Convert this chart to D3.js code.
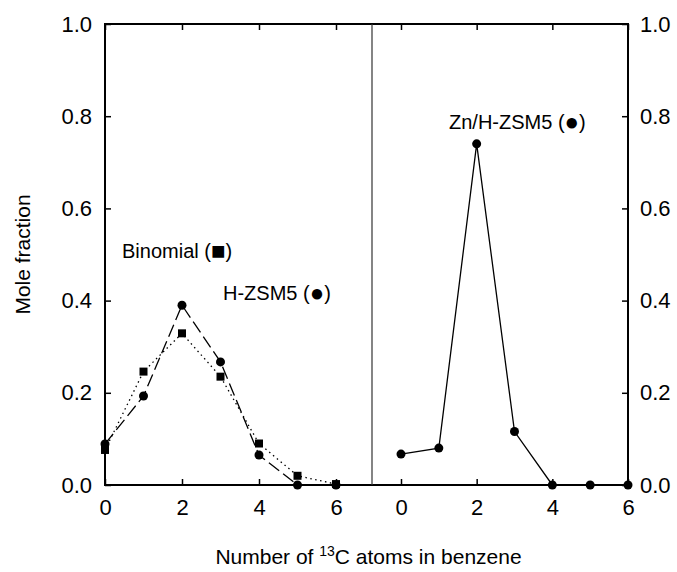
<!DOCTYPE html>
<html>
<head>
<meta charset="utf-8">
<script src="https://cdn.jsdelivr.net/npm/d3@7"></script>
<style>
   body { margin: 0; background: #fff; }
   svg { font-family: "Liberation Sans", Arial, sans-serif; }
   .axis path { display: none; }
   .axis line { stroke: #000; stroke-width: 1.5; }
   .axis text { font-size: 22px; fill: #000; }
</style>
</head>
<body>
<div id="chart"></div>
<script>
// Data
let carbons = [0, 1, 2, 3, 4, 5, 6]
let binomial = [0.076, 0.246, 0.329, 0.235, 0.090, 0.020, 0.002]
let hzsm5 = [0.089, 0.193, 0.390, 0.267, 0.065, 0.0, 0.0]
let znhzsm5 = [0.067, 0.080, 0.740, 0.116, 0.0, 0.0, 0.0]
let xTicks = [0, 2, 4, 6]
let yTicks = [0.0, 0.2, 0.4, 0.6, 0.8, 1.0]

let width = 677, height = 572
let frame = { left: 105, right: 628, top: 24, bottom: 485 }
let divider = 372

let svg = d3.select("#chart").append("svg")
   .attr("width", width)
   .attr("height", height)

let y = d3.scaleLinear().domain([0, 1]).range([frame.bottom, frame.top])
let xL = d3.scaleLinear().domain([0, 6]).range([105, 336])
let xR = d3.scaleLinear().domain([0, 6]).range([401, 628])

// Axes (ticks point inward)
let fmt = d3.format(".1f")
svg.append("g").attr("class", "axis")
   .attr("transform", "translate(" + frame.left + ",0)")
   .call(d3.axisLeft(y).tickValues(yTicks).tickFormat(fmt).tickSize(-6).tickPadding(13))
svg.append("g").attr("class", "axis")
   .attr("transform", "translate(" + frame.right + ",0)")
   .call(d3.axisRight(y).tickValues(yTicks).tickFormat(fmt).tickSize(-6).tickPadding(12))

;[xL, xR].forEach(function(x) {
   svg.append("g").attr("class", "axis")
      .attr("transform", "translate(0," + frame.bottom + ")")
      .call(d3.axisBottom(x).tickValues(xTicks).tickFormat(d3.format("d")).tickSize(-6).tickPadding(14))
   svg.append("g").attr("class", "axis")
      .attr("transform", "translate(0," + frame.top + ")")
      .call(d3.axisTop(x).tickValues(xTicks).tickSize(-6).tickFormat(""))
})

// Frame and divider
svg.append("rect")
   .attr("x", frame.left).attr("y", frame.top)
   .attr("width", frame.right - frame.left).attr("height", frame.bottom - frame.top)
   .attr("fill", "none").attr("stroke", "#000").attr("stroke-width", 2)
svg.append("line")
   .attr("x1", divider).attr("x2", divider)
   .attr("y1", frame.top).attr("y2", frame.bottom)
   .attr("stroke", "#333").attr("stroke-width", 1.2)

// Series
function drawLine(x, values, dash) {
   let line = d3.line()
      .x(function(d, i) { return x(carbons[i]) })
      .y(function(d) { return y(d) })
   svg.append("path")
      .datum(values)
      .attr("d", line)
      .attr("fill", "none")
      .attr("stroke", "#000")
      .attr("stroke-width", 1.3)
      .attr("stroke-dasharray", dash)
}

drawLine(xL, binomial, "1.5,3.5")
drawLine(xL, hzsm5, "13,5")
drawLine(xR, znhzsm5, null)

svg.selectAll("rect.binomial").data(binomial).enter().append("rect")
   .attr("class", "binomial")
   .attr("x", function(d, i) { return xL(carbons[i]) - 4 })
   .attr("y", function(d) { return y(d) - 4 })
   .attr("width", 8).attr("height", 8)
   .attr("fill", "#000")

svg.selectAll("circle.hzsm5").data(hzsm5).enter().append("circle")
   .attr("class", "hzsm5")
   .attr("cx", function(d, i) { return xL(carbons[i]) })
   .attr("cy", function(d) { return y(d) })
   .attr("r", 4.5)
   .attr("fill", "#000")

svg.selectAll("circle.zn").data(znhzsm5).enter().append("circle")
   .attr("class", "zn")
   .attr("cx", function(d, i) { return xR(carbons[i]) })
   .attr("cy", function(d) { return y(d) })
   .attr("r", 4.5)
   .attr("fill", "#000")

// Annotations: label text, then a larger marker glyph in brackets
let notes = [
   { text: "Binomial", mark: "\u25A0", x: 122, y: 258 },
   { text: "H-ZSM5", mark: "\u25CF", x: 223, y: 300 },
   { text: "Zn/H-ZSM5", mark: "\u25CF", x: 449, y: 129 }
]
notes.forEach(function(n) {
   let t = svg.append("text")
      .attr("x", n.x)
      .attr("y", n.y)
      .attr("font-size", 20)
   t.append("tspan").text(n.text + " (")
   t.append("tspan").attr("font-size", 24).attr("dy", 1).text(n.mark)
   t.append("tspan").attr("dy", -1).text(")")
})

// Axis titles
svg.append("text")
   .attr("transform", "translate(30," + ((frame.top + frame.bottom) / 2) + ") rotate(-90)")
   .attr("text-anchor", "middle")
   .attr("font-size", 21)
   .text("Mole fraction")

let xt = svg.append("text")
   .attr("x", (frame.left + frame.right) / 2 + 2)
   .attr("y", 564)
   .attr("text-anchor", "middle")
   .attr("font-size", 21)
xt.append("tspan").text("Number of ")
xt.append("tspan").attr("font-size", 14).attr("dy", -8).text("13")
xt.append("tspan").attr("dy", 8).text("C atoms in benzene")
</script>
</body>
</html>
